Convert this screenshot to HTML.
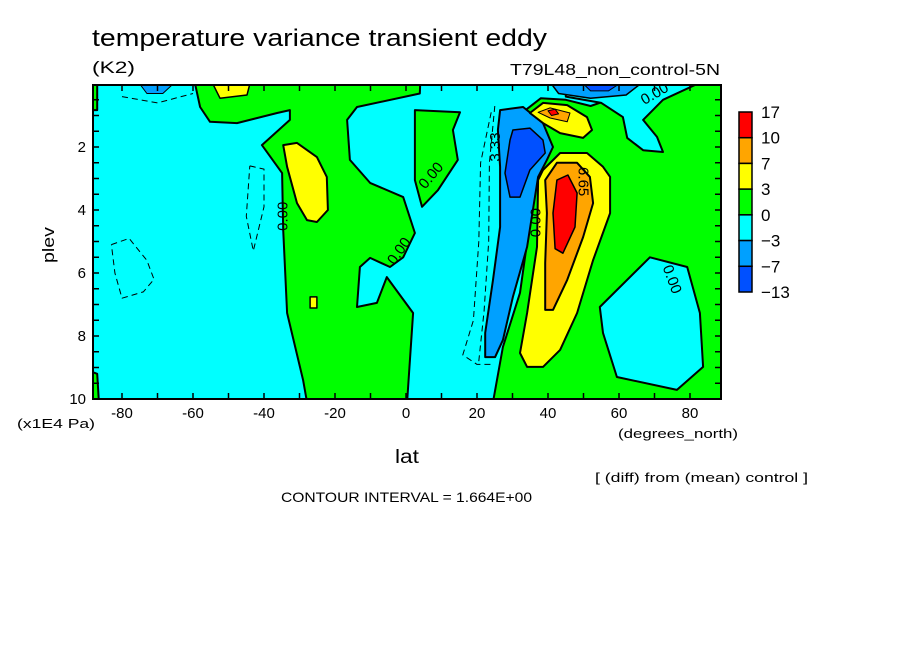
<!DOCTYPE html>
<html><head><meta charset="utf-8"><style>
body{margin:0;background:#fff;}
svg{display:block;font-family:"Liberation Sans",sans-serif;}
</style></head><body>
<svg id="chart" width="904" height="654" viewBox="0 0 904 654">
<defs><clipPath id="pc"><rect x="93" y="85" width="628" height="314"/></clipPath></defs>
<text x="92" y="46" font-size="24" textLength="455" lengthAdjust="spacingAndGlyphs">temperature variance transient eddy</text>
<text x="92" y="73" font-size="17" textLength="43" lengthAdjust="spacingAndGlyphs">(K2)</text>
<text x="510" y="75" font-size="16" textLength="210" lengthAdjust="spacingAndGlyphs">T79L48_non_control-5N</text>
<g id="plot" clip-path="url(#pc)"></g>
<g id="lines" clip-path="url(#pc)"></g>
<rect x="93" y="85" width="628" height="314" fill="none" stroke="#000" stroke-width="2"/>
<g id="axes"></g>
<g id="cbar"></g>
<text transform="translate(54,263) rotate(-90)" font-size="17" textLength="36" lengthAdjust="spacingAndGlyphs">plev</text>
<text x="17" y="428" font-size="13" textLength="78" lengthAdjust="spacingAndGlyphs">(x1E4 Pa)</text>
<text x="618" y="438" font-size="13" textLength="120" lengthAdjust="spacingAndGlyphs">(degrees_north)</text>
<text x="395" y="463" font-size="19" textLength="24" lengthAdjust="spacingAndGlyphs">lat</text>
<text x="595" y="482" font-size="13" textLength="213" lengthAdjust="spacingAndGlyphs">[ (diff) from (mean) control ]</text>
<text x="281" y="502" font-size="14" textLength="251" lengthAdjust="spacingAndGlyphs">CONTOUR INTERVAL = 1.664E+00</text>
</svg>
<script>
const xTicks=[-80,-60,-40,-20,0,20,40,60,80];
const yTicks=[2,4,6,8,10];
const cbarLabels=["17","10","7","3","0","-3","-7","-13"];
const cbarColors=["#ff0000","#ffa500","#ffff00","#00ff00","#00ffff","#00a0ff","#0050ff"];
// filled regions [lat, plev] drawn in order
const greenLeft=[[-59.4,0],[-58,0.73],[-55.2,1.2],[-47.6,1.24],[-36.3,0.92],[-32.7,0.83],[-32.7,1.14],[-40.6,1.94],[-34.9,2.83],[-34.6,4.63],[-33.5,7.27],[-29,9.4],[-27.9,10.1],[0.3,10.1],[2,7.27],[-5.4,6.13],[-8.2,6.95],[-13.8,7.08],[-13,5.81],[-10.1,5.52],[-4.5,5.81],[-0.8,5.5],[2.5,4.73],[-0.8,3.59],[-10.1,3.14],[-15.8,2.41],[-16.6,1.14],[-13.8,0.73],[3.9,0.3],[4,0]];
const greenBlob=[[2.5,0.83],[15.2,0.9],[13.2,1.46],[14.6,2.41],[9,3.37],[4.5,3.9],[2.5,3.05]];
const greenRight=[[24.5,10.1],[27.3,8.35],[32.1,6.63],[36.9,2.8],[40,2.1],[36,1.6],[34,0.8],[38,0.45],[45,0.5],[52,0.7],[57,0.5],[62,0.3],[66,0],[90,0],[90,10.1]];
const cyanTopRight=[[45,0],[82,0],[72.4,0.5],[66.8,1.14],[70.7,1.68],[72.4,2.16],[66.8,2.1],[62.3,1.71],[61.1,1.05],[55,0.6],[45,0.4]];
const cyanRight=[[54.6,7.08],[68.7,5.5],[79.2,5.81],[82.8,7.27],[83.7,8.98],[76.3,9.71],[59.4,9.3],[55.5,7.9]];
const blueTop=[[41,0],[66,0],[62,0.35],[52,0.45],[43,0.3]];
const blueTopDark=[[50,0],[60,0],[57,0.22],[52,0.22]];
const blueMain=[[26.5,0.83],[33,0.73],[38.6,1.24],[41.4,2.0],[39.7,2.41],[37.2,2.95],[34.1,5.17],[30.1,6.76],[27.3,8.13],[25.1,8.67],[22.3,8.67],[22.3,7.9],[24.5,6.22],[26.5,4.54],[26.5,2.63],[25.9,1.46]];
const blueDark=[[30.1,1.46],[34.9,1.4],[38.6,1.78],[39.2,2.19],[34.9,2.73],[32.1,3.59],[29.3,3.59],[27.9,2.83],[29.3,1.78]];
const yellowUpper=[[34.9,0.92],[38.6,0.6],[45.4,0.67],[51,1.05],[52.4,1.46],[49.9,1.71],[43.4,1.56],[38.6,1.24]];
const orangeUpper=[[37.2,0.9],[40.6,0.76],[46.2,0.92],[45.4,1.2],[40.6,1.08]];
const redUpper=[[40,0.85],[42,0.8],[43,0.95],[41,1.0]];
const yellowMain=[[38.6,2.73],[43.4,2.19],[51,2.19],[55.5,2.63],[57.5,2.95],[57.5,4.1],[52.7,5.59],[48.2,7.27],[43.4,8.44],[38.6,8.98],[34.1,8.98],[32.1,8.54],[34.1,7.27],[36.9,5.17],[37.2,3.05]];
const orangeMain=[[39.2,3.05],[42.5,2.5],[48.2,2.5],[51.8,2.95],[52.7,3.78],[49.9,4.86],[45.4,6.22],[41.4,7.17],[39.2,7.17],[39.2,5.68],[39.7,4.1]];
const redMain=[[42.5,3.05],[45.6,2.89],[48.2,3.46],[47.6,4.54],[44.2,5.37],[42,5.23],[41.4,4.1]];
const yellowTopLeft=[[-54.4,0],[-44,0],[-44.8,0.35],[-52.4,0.45]];
const yellowLeft=[[-34.6,1.94],[-30.7,1.87],[-25.1,2.32],[-22.3,2.95],[-22,4.0],[-25.1,4.38],[-27.9,4.32],[-30.7,3.78],[-33.5,2.63]];
const yellowSmall=[[-27,6.76],[-25.1,6.76],[-25.1,7.11],[-27,7.11]];
const blueTopLeft=[[-75,0],[-65.6,0],[-68.5,0.3],[-73,0.3]];
const greenEdgeTop=[[-92,0],[-87,0],[-87,0.83],[-92,0.83]];
const greenEdgeBot=[[-92,9.0],[-87,9.2],[-86.5,10.1],[-92,10.1]];
const dashLeft=[[-83,5.1],[-78,4.9],[-73,5.6],[-71,6.2],[-74,6.6],[-80,6.8],[-82,6.0],[-83,5.1]];
const dashMid=[[-44,2.6],[-40,2.7],[-40,3.9],[-43,5.3],[-45,4.2],[-44,2.6]];
const dashBlue=[[24,0.9],[21,2.5],[20.5,5],[19,7.5],[16,8.6],[20,8.9],[24,8.9]];
const dashBlue2=[[25,0.7],[23.5,2.5],[23.3,5],[22,7.2],[20.5,8.8]];
const dashTop=[[-80,0.4],[-70,0.6],[-60,0.3]];

const NS="http://www.w3.org/2000/svg";
const X=lat=>406+lat*3.55, Y=p=>84+p*31.5;
const plot=document.getElementById('plot');
function poly(parent,pts,fill,sw,name,dash){
  const e=document.createElementNS(NS,fill?'polygon':'polyline');
  e.setAttribute('points',pts.map(q=>X(q[0]).toFixed(1)+','+Y(q[1]).toFixed(1)).join(' '));
  e.setAttribute('fill',fill||'none');e.setAttribute('stroke','#000');e.setAttribute('stroke-width',sw);
  e.setAttribute('stroke-linejoin','round');
  if(dash)e.setAttribute('stroke-dasharray',dash);
  
  
  parent.appendChild(e);
}
const bg=document.createElementNS(NS,'rect');
bg.setAttribute('x',93);bg.setAttribute('y',85);bg.setAttribute('width',628);bg.setAttribute('height',314);bg.setAttribute('fill','#00ffff');


plot.appendChild(bg);
const G="#00ff00",Yl="#ffff00",O="#ffa500",R="#ff0000",B1="#00a0ff",B2="#0050ff",C="#00ffff";
poly(plot,greenLeft,G,2,'green-region-left');
poly(plot,greenBlob,G,2,'green-region-center');
poly(plot,greenRight,G,2,'green-region-right');
poly(plot,greenEdgeTop,G,2,'green-edge-top');
poly(plot,greenEdgeBot,G,2,'green-edge-bottom');
poly(plot,cyanTopRight,C,2,'cyan-region-top-right');
poly(plot,cyanRight,C,2,'cyan-region-right');
poly(plot,blueTop,B1,1.5,'blue-region-top');
poly(plot,blueTopDark,B2,1,'darkblue-region-top');
poly(plot,blueMain,B1,2,'blue-region-main');
poly(plot,blueDark,B2,1.5,'darkblue-region-main');
poly(plot,yellowUpper,Yl,2,'yellow-region-upper');
poly(plot,orangeUpper,O,1,'orange-region-upper');
poly(plot,redUpper,R,1,'red-region-upper');
poly(plot,yellowMain,Yl,2,'yellow-region-main');
poly(plot,orangeMain,O,2,'orange-region-main');
poly(plot,redMain,R,1.5,'red-region-main');
poly(plot,yellowTopLeft,Yl,1.5,'yellow-region-top-left');
poly(plot,yellowLeft,Yl,2,'yellow-region-left');
poly(plot,yellowSmall,Yl,1.5,'yellow-region-small');
poly(plot,blueTopLeft,B1,1,'blue-region-top-left');
const lines=document.getElementById('lines');
poly(lines,dashLeft,null,1,'dashed-contour-left','6,4');
poly(lines,dashMid,null,1,'dashed-contour-mid','6,4');
poly(lines,dashBlue,null,1,'dashed-contour-blue','6,4');
poly(lines,dashBlue2,null,1,'dashed-contour-blue-inner','6,4');
poly(lines,dashTop,null,1,'dashed-contour-top','6,4');
const labels=[["0.00",-34.8,4.2,-90],["0.00",-2,5.3,-55],["0.00",7,2.9,-50],["3.33",25,2.0,-90],["6.65",50,3.1,90],["0.00",36.5,4.4,-90],["0.00",75,6.2,70],["0.00",70,0.3,-30]];
labels.forEach(l=>{
  const t=document.createElementNS(NS,'text');
  t.setAttribute('transform',`translate(${X(l[1])},${Y(l[2])}) rotate(${l[3]})`);
  t.setAttribute('font-size','15');t.setAttribute('text-anchor','middle');t.setAttribute('dy','5');
  t.textContent=l[0];
  
  
  lines.appendChild(t);
});
const axes=document.getElementById('axes');
function ln(x1,y1,x2,y2,name){const e=document.createElementNS(NS,'line');
  e.setAttribute('x1',x1);e.setAttribute('y1',y1);e.setAttribute('x2',x2);e.setAttribute('y2',y2);
  e.setAttribute('stroke','#000');e.setAttribute('stroke-width',1.5);
  
  
  axes.appendChild(e);}
for(let lat=-80;lat<=80;lat+=10){ln(X(lat),399,X(lat),393,'x-tick');ln(X(lat),85,X(lat),91,'x-tick');}
for(let p=0.5;p<10;p+=0.5){ln(93,Y(p),99,Y(p),'y-tick');ln(721,Y(p),715,Y(p),'y-tick');}
xTicks.forEach(v=>{const t=document.createElementNS(NS,'text');
  t.setAttribute('x',X(v));t.setAttribute('y',418);t.setAttribute('font-size','15');t.setAttribute('text-anchor','middle');
  t.textContent=v;
  
  
  axes.appendChild(t);});
yTicks.forEach(v=>{const t=document.createElementNS(NS,'text');
  t.setAttribute('x',86);t.setAttribute('y',Y(v)+5);t.setAttribute('font-size','15');t.setAttribute('text-anchor','end');
  t.textContent=v;
  
  
  axes.appendChild(t);});
const cb=document.getElementById('cbar');
const bh=180/cbarColors.length;
cbarColors.forEach((c,i)=>{const r=document.createElementNS(NS,'rect');
  r.setAttribute('x',739);r.setAttribute('y',112+i*bh);r.setAttribute('width',13);r.setAttribute('height',bh);
  r.setAttribute('fill',c);r.setAttribute('stroke','#000');r.setAttribute('stroke-width',1.5);
  
  
  cb.appendChild(r);});
cbarLabels.forEach((s,i)=>{const t=document.createElementNS(NS,'text');
  t.setAttribute('x',761);t.setAttribute('y',112+i*bh+6);t.setAttribute('font-size','17');
  t.textContent=s.replace('-','\u2212');
  
  
  cb.appendChild(t);});
</script>
</body></html>
